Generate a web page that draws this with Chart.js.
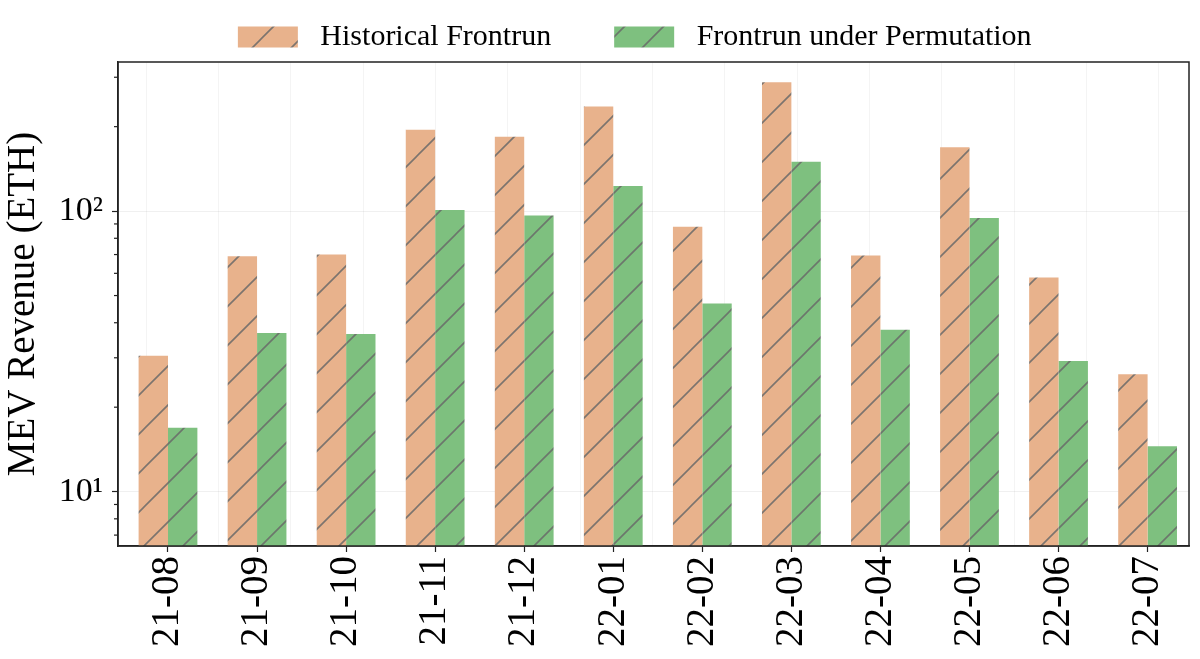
<!DOCTYPE html>
<html>
<head>
<meta charset="utf-8">
<script src="https://cdn.jsdelivr.net/npm/chart.js@4/dist/chart.umd.min.js"></script>
<style>
  body { margin: 0; background: #fff; }
  #wrap { width: 1200px; height: 659px; }
</style>
</head>
<body>
<div id="wrap"><canvas id="c"></canvas></div>
<script>
const months = ['21-08', '21-09', '21-10', '21-11', '21-12', '22-01', '22-02', '22-03', '22-04', '22-05', '22-06', '22-07'];
const historical = [30.5, 69, 70, 195, 184, 236, 88, 288, 69.5, 169, 58, 26.2];
const permuted = [16.9, 36.8, 36.5, 101, 96.5, 123, 46.8, 150, 37.8, 94.4, 29.2, 14.5];
const yTicks = [7, 8, 9, 10, 20, 30, 40, 50, 60, 70, 80, 90, 100, 200, 300];
const yLabels = { 10: '10\u00b9', 100: '10\u00b2' };
const vGrid = [0, 1, 2, 3, 4, 5, 6, 7, 8, 9, 10, 11, 12, 13];

const FONT = "'Liberation Serif', 'DejaVu Serif', serif";
const ctx = document.getElementById('c').getContext('2d');

// diagonal "/" hatch on top of a flat colour
function hatch(color) {
    const s = 39;
    const tile = document.createElement('canvas');
    tile.width = s; tile.height = s;
    const g = tile.getContext('2d');
    g.fillStyle = color;
    g.fillRect(0, 0, s, s);
    g.strokeStyle = 'rgba(105,105,105,0.85)';
    g.lineWidth = 1.6;
    g.beginPath();
    g.moveTo(-2, s + 2); g.lineTo(s + 2, -2);
    g.moveTo(-2, 2); g.lineTo(2, -2);
    g.moveTo(s - 2, s + 2); g.lineTo(s + 2, s - 2);
    g.stroke();
    const p = ctx.createPattern(tile, 'repeat');
    p.setTransform(new DOMMatrix([1, 0, 0, 1, 27, 0]));
    return p;
}

const frame = {
    id: 'frame',
    afterDraw(chart) {
        const a = chart.chartArea;
        const y = chart.scales.y;
        const c = chart.ctx;
        c.save();
        c.strokeStyle = '#222';
        c.lineWidth = 1.2;
        y.ticks.forEach(t => {
            if (yLabels[t.value]) return;
            const py = y.getPixelForValue(t.value);
            c.beginPath();
            c.moveTo(a.left - 4, py);
            c.lineTo(a.left, py);
            c.stroke();
        });
        c.lineWidth = 1.5;
        c.strokeRect(a.left, a.top, a.right - a.left, a.bottom - a.top);
        c.restore();
    }
};

new Chart(ctx, {
    type: 'bar',
    data: {
        datasets: [
            {
                label: 'Historical Frontrun',
                data: historical.map((v, i) => ({ x: i, y: v })),
                backgroundColor: hatch('#e8b28c'),
                borderWidth: 0,
            },
            {
                label: 'Frontrun under Permutation',
                data: permuted.map((v, i) => ({ x: i, y: v })),
                backgroundColor: hatch('#7ec07f'),
                borderWidth: 0,
            },
        ],
    },
    options: {
        responsive: true,
        maintainAspectRatio: false,
        animation: false,
        categoryPercentage: 0.66,
        barPercentage: 1.0,
        layout: { padding: { left: 0, right: 11, bottom: 8, top: 4 } },
        scales: {
            x: {
                type: 'linear',
                offset: false,
                min: -0.5615,
                max: 11.465,
                afterBuildTicks: axis => { axis.ticks = months.map((m, i) => ({ value: i })); },
                grid: { offset: false, drawOnChartArea: false, tickLength: 6, tickColor: '#222', tickWidth: 1.2 },
                border: { color: '#222', width: 1.5 },
                ticks: {
                    color: '#000',
                    font: { family: FONT, size: 39 },
                    minRotation: 90,
                    maxRotation: 90,
                    padding: 4,
                    autoSkip: false,
                    callback: v => months[v],
                },
            },
            x2: {
                type: 'linear',
                position: 'top',
                min: -0.36,
                max: 13.39,
                afterBuildTicks: axis => { axis.ticks = vGrid.map(v => ({ value: v })); },
                grid: { color: 'rgba(0,0,0,0.045)', drawTicks: false },
                border: { display: false },
                ticks: { display: false },
            },
            y: {
                type: 'logarithmic',
                min: 6.4,
                max: 340,
                afterBuildTicks: axis => { axis.ticks = yTicks.map(v => ({ value: v, major: !!yLabels[v] })); },
                grid: {
                    color: c => (c.tick && yLabels[c.tick.value]) ? 'rgba(0,0,0,0.06)' : 'rgba(0,0,0,0)',
                    tickColor: c => (c.tick && yLabels[c.tick.value]) ? '#222' : 'rgba(0,0,0,0)',
                    tickLength: 6,
                    tickWidth: 1.2,
                },
                border: { color: '#222', width: 1.5 },
                ticks: {
                    color: '#000',
                    font: { family: FONT, size: 34 },
                    autoSkip: false,
                    padding: 9,
                    callback: v => yLabels[v] || '',
                },
                title: {
                    display: true,
                    text: 'MEV Revenue (ETH)',
                    color: '#000',
                    font: { family: FONT, size: 39 },
                    padding: { top: 0, bottom: 3 },
                },
            },
        },
        plugins: {
            legend: {
                position: 'top',
                fullSize: false,
                labels: {
                    color: '#000',
                    font: { family: FONT, size: 30 },
                    boxWidth: 60,
                    boxHeight: 21,
                    padding: 18,
                    generateLabels: chart => Chart.defaults.plugins.legend.labels.generateLabels(chart)
                        .map((l, i) => ({ ...l, text: ' ' + l.text + (i === 0 ? '\u2003\u2002' : '\u2003 ') })),
                },
            },
            tooltip: { enabled: false },
        },
    },
    plugins: [frame],
});
</script>
</body>
</html>
